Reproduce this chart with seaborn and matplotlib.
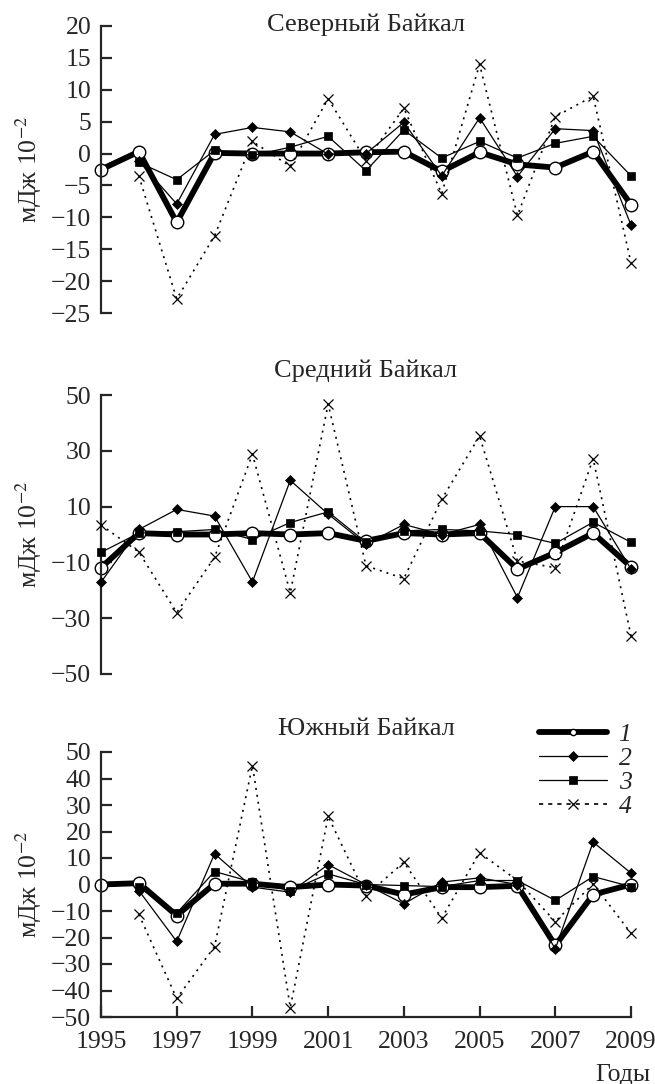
import numpy as np
import pandas as pd
import matplotlib
matplotlib.use("Agg")
import matplotlib.pyplot as plt
import seaborn as sns
from matplotlib.lines import Line2D

sns.set_theme(style="ticks")
plt.rcParams['font.family'] = ['Liberation Serif', 'DejaVu Serif']
plt.rcParams['mathtext.fontset'] = 'stix'

years = list(range(1995, 2010))
nan = float("nan")

# Северный Байкал
north_1 = [-2.5, 0.3, -10.8, 0.1, 0.0, 0.0, 0.0, 0.2, 0.3, -2.8, 0.2, -1.7, -2.2, 0.3, -8.0]
north_2 = [nan, -1.2, -7.9, 3.0, 4.1, 3.4, -0.1, 0.0, 4.9, -3.5, 5.6, -3.6, 3.9, 3.6, -11.2]
north_3 = [nan, -1.4, -4.1, 0.5, -0.3, 1.0, 2.7, -2.7, 3.7, -0.7, 1.9, -0.7, 1.6, 2.7, -3.5]
north_4 = [nan, -3.5, -22.8, -12.9, 1.9, -2.0, 8.6, -1.1, 7.1, -6.3, 14.0, -9.7, 5.8, 9.0, -17.1]

# Средний Байкал
mid_1 = [-11.9, 0.5, 0.0, 0.0, 0.5, 0.0, 0.5, -2.3, 0.5, 0.0, 0.5, -12.4, -6.5, 0.5, -11.6]
mid_2 = [-17.1, 1.8, 9.0, 6.6, -17.0, 19.4, 7.3, -3.5, 3.6, 0.0, 3.6, -22.6, 10.0, 10.0, -12.4]
mid_3 = [-6.4, 0.5, 1.0, 1.8, -1.8, 4.3, 8.1, -2.8, 1.3, 1.8, 1.3, 0.0, -3.2, 4.4, -2.8]
mid_4 = [3.4, -6.3, -28.0, -8.2, 28.8, -20.9, 46.8, -11.2, -15.8, 12.6, 35.3, -9.5, -11.9, 27.2, -36.3]

# Южный Байкал
south_1 = [0.0, 0.5, -11.7, 0.3, 0.3, -1.0, 0.0, -0.4, -3.8, -1.0, -1.0, -0.5, -23.0, -3.8, 0.0]
south_2 = [nan, -2.3, -21.5, 11.6, -1.0, -2.9, 7.5, 0.0, -7.3, 0.9, 2.5, 0.0, -24.3, 16.0, 4.3]
south_3 = [nan, -1.0, -10.8, 4.9, 0.9, -2.3, 4.0, 0.0, -0.4, -0.8, 1.5, 1.5, -6.0, 3.0, -0.8]
south_4 = [nan, -11.3, -43.0, -23.4, 44.9, -46.5, 25.7, -4.2, 8.4, -12.7, 12.0, 1.5, -14.0, 0.3, -18.4]

titles = ["Северный Байкал", "Средний Байкал", "Южный Байкал"]
series_labels = ["1", "2", "3", "4"]
panels = [
    (north_1, north_2, north_3, north_4),
    (mid_1, mid_2, mid_3, mid_4),
    (south_1, south_2, south_3, south_4),
]
ylims = [(-25, 20), (-50, 50), (-50, 50)]
yticks = [list(range(-25, 21, 5)), [-50, -30, -10, 10, 30, 50], list(range(-50, 51, 10))]
xticks = [1995, 1997, 1999, 2001, 2003, 2005, 2007, 2009]

W, H = 655, 1084
fig = plt.figure(figsize=(W / 100, H / 100), dpi=100)
left = 101 / W
width = 530 / W
boxes = [(26, 313), (395, 674), (752, 1017)]
title_y = [0.983, 1.065, 1.064]

styles = [
    dict(color="black", linewidth=4.2, marker="o", markersize=9, markerfacecolor="white",
         markeredgecolor="black", markeredgewidth=1.0),
    dict(color="black", linewidth=0.9, marker="D", markersize=5.5, markerfacecolor="black",
         markeredgecolor="black", markeredgewidth=0.5),
    dict(color="black", linewidth=0.9, marker="s", markersize=6.2, markerfacecolor="black",
         markeredgecolor="black", markeredgewidth=0.5),
    dict(color="black", linewidth=1.2, marker="x", markersize=7.5, markeredgewidth=0.9,
         markeredgecolor="black", dashes=(1.2, 3.0)),
]

FS = 18.5
for i, (data, (ytop, ybot)) in enumerate(zip(panels, boxes)):
    ax = fig.add_axes([left, 1 - ybot / H, width, (ybot - ytop) / H])
    for j, vals in enumerate(data):
        df = pd.DataFrame({"year": years, "value": vals}).dropna()
        st = dict(styles[j])
        dashes = st.pop("dashes", None)
        sns.lineplot(data=df, x="year", y="value", ax=ax, zorder=2 + j, clip_on=False, **st)
        if dashes is not None:
            ax.lines[-1].set_dashes(dashes)
    ax.set_xlim(1995, 2009)
    ax.set_ylim(*ylims[i])
    ax.set_yticks(yticks[i])
    ax.set_yticklabels([f"{v}".replace("-", "\u2212") for v in yticks[i]], fontsize=FS)
    ax.tick_params(axis="y", direction="in", length=8, width=1.6, pad=7)
    ax.set_ylabel("мДж 10$^{-2}$", fontsize=FS, labelpad=5)
    ax.set_xlabel("")
    ax.spines["top"].set_visible(False)
    ax.spines["right"].set_visible(False)
    ax.spines["left"].set_linewidth(1.6)
    ax.set_facecolor("none")
    ax.text(0.5, title_y[i], titles[i], transform=ax.transAxes, ha="center",
            va="baseline", fontsize=FS + 0.5)
    if i < 2:
        ax.spines["bottom"].set_visible(False)
        ax.set_xticks([])
    else:
        ax.spines["bottom"].set_linewidth(1.6)
        ax.set_xticks(xticks)
        ax.set_xticklabels([str(x) for x in xticks], fontsize=FS)
        ax.tick_params(axis="x", direction="in", length=8, width=1.6, pad=10)
        ax.set_xlabel("")
        handles = [Line2D([0], [0], **{k: v for k, v in s.items() if k != "dashes"})
                   for s in styles]
        handles[0].set_markersize(4.5)
        handles[3].set_dashes((2.5, 3.0))
        ax.legend(handles, series_labels, loc="upper right",
                  bbox_to_anchor=(652 / W, 1 - 702 / H), bbox_transform=fig.transFigure,
                  frameon=False, handlelength=2.65, labelspacing=0.05,
                  handletextpad=0.45, borderpad=0.3,
                  prop={"style": "italic", "size": FS})

fig.text(650 / W, 1 - 1075 / H, "Годы", ha="right", va="center", fontsize=FS)

fig.savefig("out.png", dpi=100, facecolor="white")
